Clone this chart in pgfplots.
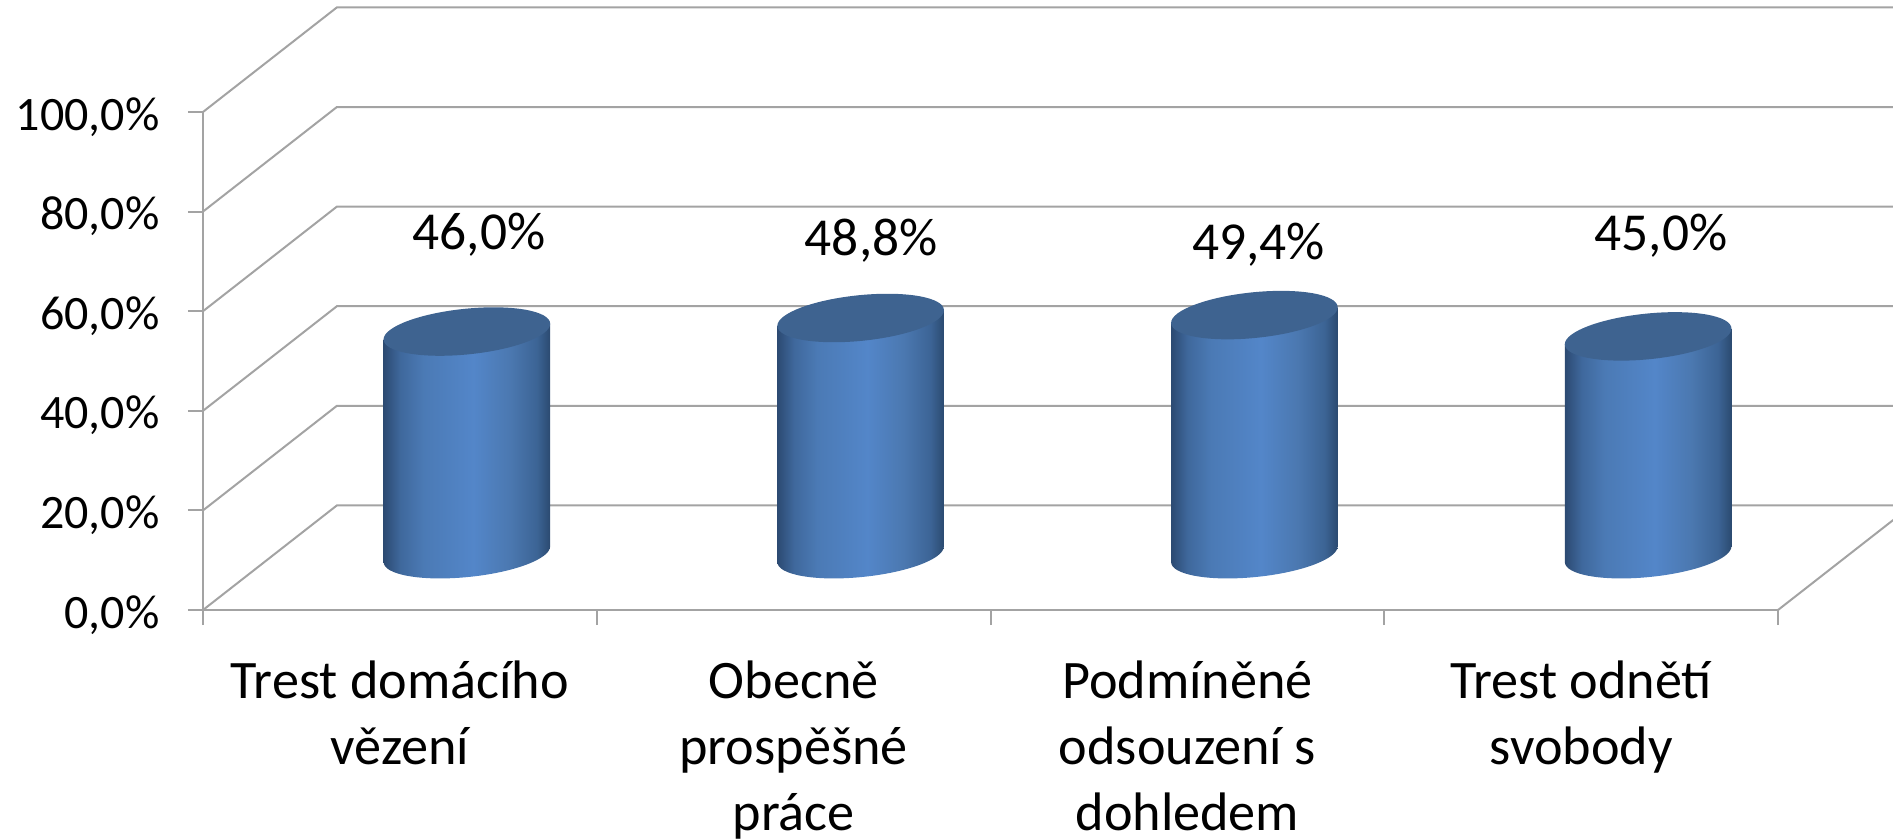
\documentclass[border=0pt]{standalone}
\usepackage{pgfplots}
\usepackage{pgfplotstable}
\usepackage{fontspec}
\setmainfont{Carlito}
\pgfplotsset{compat=1.18}
\definecolor{gridgray}{HTML}{A3A3A3}
\definecolor{cyltop}{HTML}{3E6390}
\definecolor{cA}{HTML}{2C4A72}
\definecolor{cB}{HTML}{3F689C}
\definecolor{cC}{HTML}{4B7AB5}
\definecolor{cD}{HTML}{5386C9}
\definecolor{cE}{HTML}{4B78B0}
\definecolor{cF}{HTML}{3C6495}
\definecolor{cG}{HTML}{2B4A70}
% the path's box runs from 25bp to 75bp of the shading
\pgfdeclarehorizontalshading{cyl}{100bp}{color(0bp)=(cA); color(25bp)=(cA); color(30bp)=(cB); color(37bp)=(cC); color(52bp)=(cD); color(63bp)=(cE); color(71bp)=(cF); color(75bp)=(cG); color(100bp)=(cG)}
\pgfdeclareplotmark{cylinder}{%
  \path[draw=none,shade,shading=cyl]
     (-41.65pt,-3.915pt) -- (-41.65pt,-3.915pt-\pgfplotmarksize)
     .. controls (-41.65pt,-10.25pt-\pgfplotmarksize) and (-23pt,-13.63pt-\pgfplotmarksize) .. (0pt,-11.47pt-\pgfplotmarksize)
     .. controls (23pt,-9.31pt-\pgfplotmarksize) and (41.65pt,-2.42pt-\pgfplotmarksize) .. (41.65pt,3.915pt-\pgfplotmarksize)
     -- (41.65pt,3.915pt) -- cycle;
  \path[draw=none,fill=cyltop]
     (41.65pt,3.915pt)
     .. controls (41.65pt,10.25pt) and (23pt,13.63pt) .. (0pt,11.47pt)
     .. controls (-23pt,9.31pt) and (-41.65pt,2.42pt) .. (-41.65pt,-3.915pt)
     .. controls (-41.65pt,-10.25pt) and (-23pt,-13.63pt) .. (0pt,-11.47pt)
     .. controls (23pt,-9.31pt) and (41.65pt,-2.42pt) .. (41.65pt,3.915pt) -- cycle;
}
\pgfplotstableread{
x v
0.5 46.0
1.5 48.8
2.5 49.4
3.5 45.0
}\bars
\begin{document}
\begin{tikzpicture}
\useasboundingbox (-101.5pt,-114.5pt) rectangle (845pt,305pt);
\clip (-101.5pt,-114.5pt) rectangle (845pt,305pt);
\begin{axis}[
  at={(0pt,0pt)},anchor=south west,
  scale only axis,width=787.5pt,height=249pt,
  xmin=0,xmax=4,ymin=0,ymax=100,clip=false,
  axis x line*=bottom,axis y line*=left,
  axis line style={gridgray,line width=1pt,-},
  xtick={0.5,1.5,2.5,3.5},
  minor xtick={0,1,2,3,4},
  xticklabels={{Trest domácího\\vězení},{Obecně\\prospěšné\\práce},{Podmíněné\\odsouzení s\\dohledem},{Trest odnětí\\svobody}},
  major x tick style={draw=none},
  minor x tick style={gridgray,line width=1pt},
  minor tick length=7.5pt,
  major tick length=7.5pt,
  tick align=outside,
  ytick={0,20,40,60,80,100},
  y tick style={gridgray,line width=1pt},
  yticklabel={\pgfmathprintnumber[fixed,fixed zerofill,precision=1,use comma,assume math mode=true]{\tick}\%},
  yticklabel style={font=\fontsize{24}{28}\selectfont,anchor=east,inner sep=0pt,xshift=-14pt,yshift=-2.4pt},
  xticklabel style={font=\fontsize{27.1}{33}\selectfont,align=center,anchor=north,inner sep=0pt,yshift=-17.5pt},
]
\addplot[gridgray,line width=1pt] coordinates {(0,0)(0.34,21)(4.34,21)};
\addplot[gridgray,line width=1pt] coordinates {(0,20)(0.34,41)(4.34,41)};
\addplot[gridgray,line width=1pt] coordinates {(0,40)(0.34,61)(4.34,61)};
\addplot[gridgray,line width=1pt] coordinates {(0,60)(0.34,81)(4.34,81)};
\addplot[gridgray,line width=1pt] coordinates {(0,80)(0.34,101)(4.34,101)};
\addplot[gridgray,line width=1pt] coordinates {(0,100)(0.34,121)(4.34,121)};
\addplot[gridgray,line width=1pt] coordinates {(4,0)(4.34,21)};
\node[font=\fontsize{26.7}{30}\selectfont] at (axis cs:0.701,75.3) {46,0\%};
\node[font=\fontsize{26.7}{30}\selectfont] at (axis cs:1.697,74.1) {48,8\%};
\node[font=\fontsize{26.7}{30}\selectfont] at (axis cs:2.681,73.4) {49,4\%};
\node[font=\fontsize{26.7}{30}\selectfont] at (axis cs:3.703,75.1) {45,0\%};
\end{axis}
\begin{axis}[
  at={(33.5pt,27.9pt)},anchor=south west,
  scale only axis,width=787.5pt,height=242pt,
  xmin=0,xmax=4,ymin=0,ymax=100,clip=false,hide axis,
]
\addplot[scatter,only marks,mark=cylinder,
  scatter src=y,
  scatter/use mapped color={draw=none,fill=none},
  visualization depends on={y \as \vv},
  scatter/@pre marker code/.append style={/tikz/mark size=\vv*2.42},
] table[x=x,y=v] {\bars};
\end{axis}
\end{tikzpicture}
\end{document}
